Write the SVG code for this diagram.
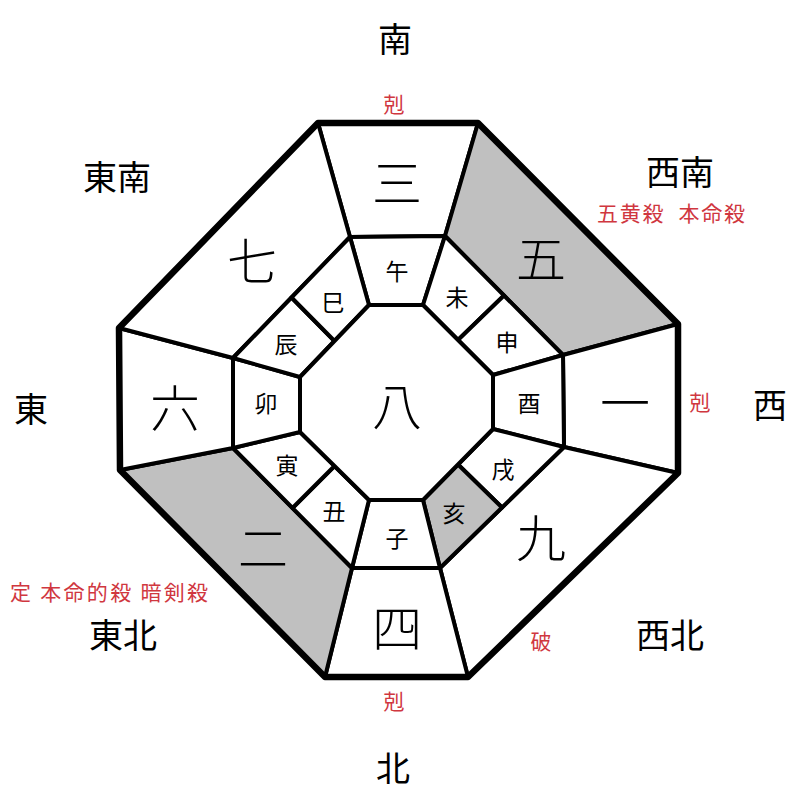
<svg xmlns="http://www.w3.org/2000/svg" width="800" height="800" viewBox="0 0 800 800">
<style>
.cell{fill:#ffffff;stroke:#000;stroke-width:4;stroke-linejoin:round}
.gray{fill:#c0c0c0}
.big{font-family:"Noto Sans CJK JP","Noto Sans CJK SC",sans-serif;font-size:50px;font-weight:300;fill:#000;text-anchor:middle;dominant-baseline:central}
.br{font-family:"Noto Sans CJK JP","Noto Sans CJK SC",sans-serif;font-size:23px;fill:#000;text-anchor:middle;dominant-baseline:central}
.dir{font-family:"Noto Sans CJK JP","Noto Sans CJK SC",sans-serif;font-size:34px;fill:#000;text-anchor:middle;dominant-baseline:central}
.red{font-family:"Noto Sans CJK JP","Noto Sans CJK SC",sans-serif;font-size:21px;fill:#d0373f;text-anchor:middle;dominant-baseline:central}
</style>
<rect width="800" height="800" fill="#fff"/>
<g id="outer-ring">
<g id="seg-san"><polygon class="cell" points="318,123 478,123 445,236 350,237"/><text class="big" x="397" y="180">三</text></g>
<g id="seg-go"><polygon class="cell gray" points="478,123 678,324 563,355 445,236"/><text class="big" x="541" y="256">五</text></g>
<g id="seg-ichi"><polygon class="cell" points="678,324 678,473 564,447 563,355"/><text class="big" x="625" y="400">一</text></g>
<g id="seg-kyu"><polygon class="cell" points="678,473 468,677 440,568 564,447"/><text class="big" x="541" y="535">九</text></g>
<g id="seg-yon"><polygon class="cell" points="468,677 325,677 352,568 440,568"/><text class="big" x="397" y="625">四</text></g>
<g id="seg-ni"><polygon class="cell gray" points="325,677 120,470 233,448 352,568"/><text class="big" x="263" y="545">二</text></g>
<g id="seg-roku"><polygon class="cell" points="120,470 119,328 233,358 233,448"/><text class="big" x="175" y="405">六</text></g>
<g id="seg-nana"><polygon class="cell" points="119,328 318,123 350,237 233,358"/><text class="big" x="252" y="258">七</text></g>
</g>
<g id="branch-ring">
<g id="b-uma"><polygon class="cell" points="350,237 445,236 423,305 369,305"/><text class="br" x="397" y="270">午</text></g>
<g id="b-hitsuji"><polygon class="cell" points="445,236 504,295.5 458,340 423,305"/><text class="br" x="457" y="296">未</text></g>
<g id="b-saru"><polygon class="cell" points="504,295.5 563,355 493,375 458,340"/><text class="br" x="507" y="341">申</text></g>
<g id="b-tori"><polygon class="cell" points="563,355 564,447 493,429 493,375"/><text class="br" x="529" y="402">酉</text></g>
<g id="b-inu"><polygon class="cell" points="564,447 502,507.5 458,464.5 493,429"/><text class="br" x="503" y="468">戌</text></g>
<g id="b-i"><polygon class="cell gray" points="502,507.5 440,568 423,500 458,464.5"/><text class="br" x="454" y="512">亥</text></g>
<g id="b-ne"><polygon class="cell" points="440,568 352,568 369,500 423,500"/><text class="br" x="397" y="537">子</text></g>
<g id="b-ushi"><polygon class="cell" points="352,568 292.5,508 334.5,466 369,500"/><text class="br" x="334" y="510">丑</text></g>
<g id="b-tora"><polygon class="cell" points="292.5,508 233,448 300,432 334.5,466"/><text class="br" x="287" y="464">寅</text></g>
<g id="b-u"><polygon class="cell" points="233,448 233,358 300,377 300,432"/><text class="br" x="266" y="402">卯</text></g>
<g id="b-tatsu"><polygon class="cell" points="233,358 291.5,297.5 334.5,341 300,377"/><text class="br" x="286" y="343">辰</text></g>
<g id="b-mi"><polygon class="cell" points="291.5,297.5 350,237 369,305 334.5,341"/><text class="br" x="333" y="301">巳</text></g>
</g>
<g id="center"><polygon class="cell" points="369,305 423,305 493,375 493,429 423,500 369,500 300,432 300,377"/><text class="big" x="397" y="403">八</text></g>
<g id="connectors">
<polygon points="318,123 478,123 678,324 678,473 468,677 325,677 120,470 119,328" fill="none" stroke="#000" stroke-width="6.5" stroke-linejoin="round"/>
</g>
<g id="labels">
<text class="dir" x="395" y="37">南</text>
<text class="dir" x="117" y="175">東南</text>
<text class="dir" x="680" y="170">西南</text>
<text class="dir" x="31" y="407">東</text>
<text class="dir" x="770" y="403">西</text>
<text class="dir" x="123" y="633">東北</text>
<text class="dir" x="670" y="633">西北</text>
<text class="dir" x="393" y="766">北</text>
<text class="red" x="394" y="103">剋</text>
<text class="red" x="700" y="401">剋</text>
<text class="red" x="394" y="700">剋</text>
<text class="red" x="541" y="640">破</text>
<text class="red" x="671" y="212" xml:space="preserve" textLength="148" lengthAdjust="spacing">五黄殺  本命殺</text>
<text class="red" x="109" y="591" xml:space="preserve" textLength="198" lengthAdjust="spacing">定 本命的殺 暗剣殺</text>
</g>
</svg>
